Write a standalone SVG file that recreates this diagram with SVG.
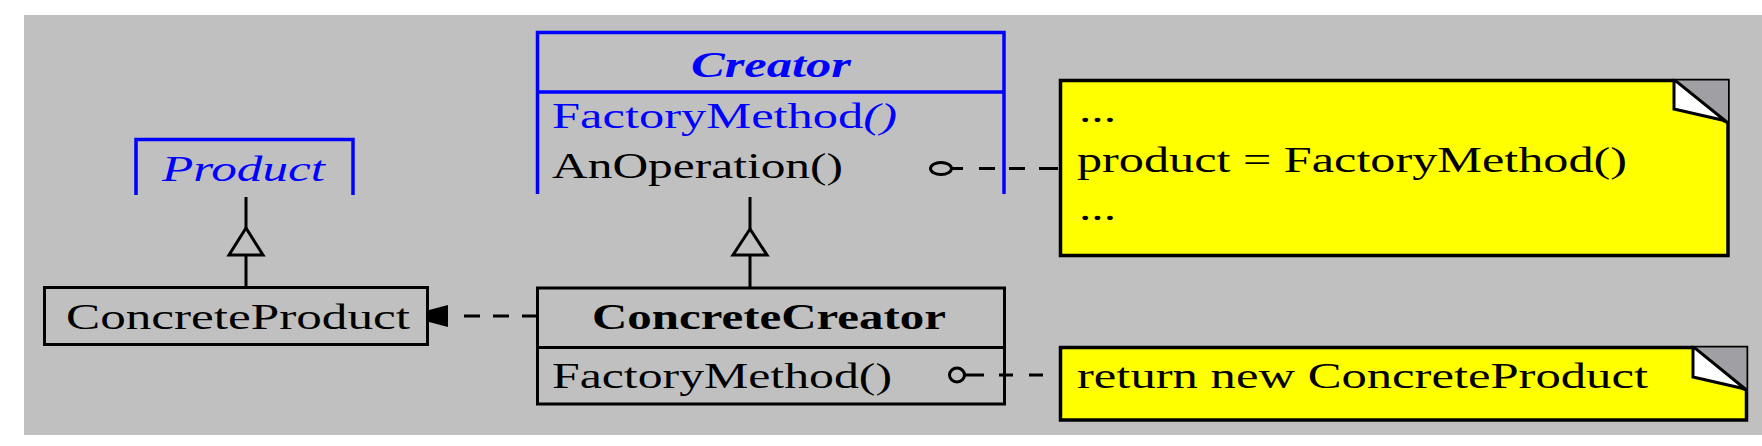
<svg xmlns="http://www.w3.org/2000/svg" width="1762" height="446" viewBox="0 0 1762 446">
<style>
  text { font-family: "Liberation Serif", "Times New Roman", serif; font-size: 36px; fill: #000; }
  .blue { fill: #0000ff; }
  .it { font-style: italic; }
  .bold { font-weight: bold; }
  .box { fill: none; stroke: #000; stroke-width: 3; }
  .abs { fill: none; stroke: #0000ff; stroke-width: 3.5; }
  .note { fill: #ffff00; stroke: #000; stroke-width: 3.5; }
  .line { fill: none; stroke: #000; stroke-width: 3; }
  .tri { fill: #c0c0c0; stroke: #000; stroke-width: 3; stroke-linejoin: miter; }
  .fold-g { fill: #a0a0a4; }
  .fold-w { fill: #ffffff; stroke: #000; stroke-width: 3; stroke-linejoin: miter; }
</style>
<rect x="24" y="15" width="1738" height="420" fill="#c0c0c0"/>

<g id="connectors">
  <!-- ConcreteProduct -> Product generalization -->
  <path class="line" d="M246 197 V228 M246 255 V287"/>
  <polygon class="tri" points="246,228 229,255 263,255"/>
  <!-- ConcreteCreator -> Creator generalization -->
  <path class="line" d="M750 197 V229 M750 255 V288"/>
  <polygon class="tri" points="750,229 733,255 767,255"/>
  <!-- ConcreteCreator -> ConcreteProduct dependency -->
  <path class="line" d="M464 316 H480 M493 316 H509 M522 316 H537"/>
  <polygon points="429,310 448,305 448,327 429,322" fill="#000"/>
  <!-- AnOperation note link -->
  <ellipse cx="941" cy="168.5" rx="10.5" ry="6" fill="none" stroke="#000" stroke-width="3"/>
  <path class="line" d="M951.5 168.5 H963 M979 168.5 H995 M1009 168.5 H1025 M1039 168.5 H1058"/>
  <!-- FactoryMethod note link -->
  <ellipse cx="957" cy="375" rx="7.5" ry="7" fill="none" stroke="#000" stroke-width="3"/>
  <path class="line" d="M964.5 375 H984 M999 375 H1013 M1029 375 H1043"/>
</g>

<g id="product">
  <path class="abs" d="M136 195 V139.5 H353 V195"/>
  <text class="blue it" x="162" y="181" textLength="163" lengthAdjust="spacingAndGlyphs">Product</text>
</g>

<g id="creator">
  <path class="abs" d="M537.5 194 V32.5 H1004 V194 M537.5 92 H1004"/>
  <text class="blue it bold" x="691" y="77" textLength="160" lengthAdjust="spacingAndGlyphs">Creator</text>
  <text class="blue" x="552" y="128" textLength="345" lengthAdjust="spacingAndGlyphs">FactoryMethod<tspan class="it">()</tspan></text>
  <text x="552" y="178" textLength="291" lengthAdjust="spacingAndGlyphs">AnOperation()</text>
</g>

<g id="concreteproduct">
  <rect class="box" x="44.5" y="287.5" width="383" height="57"/>
  <text x="66" y="329" textLength="344" lengthAdjust="spacingAndGlyphs">ConcreteProduct</text>
</g>

<g id="concretecreator">
  <rect class="box" x="537.5" y="288" width="467" height="116"/>
  <path class="box" d="M537.5 347.5 H1004.5"/>
  <text class="bold" x="592" y="329" textLength="354" lengthAdjust="spacingAndGlyphs">ConcreteCreator</text>
  <text x="552" y="388" textLength="340" lengthAdjust="spacingAndGlyphs">FactoryMethod()</text>
</g>

<g id="note1">
  <rect class="note" x="1060.5" y="80.5" width="667.5" height="175"/>
  <polygon class="fold-g" points="1676,80.5 1728,80.5 1728,123"/>
  <polygon class="fold-w" points="1674,80.5 1674,109 1722,120 1728,123 1676,81"/>
  <text x="1079" y="122" textLength="37" lengthAdjust="spacingAndGlyphs">...</text>
  <text x="1077" y="172" textLength="550" lengthAdjust="spacingAndGlyphs">product = FactoryMethod()</text>
  <text x="1079" y="220" textLength="37" lengthAdjust="spacingAndGlyphs">...</text>
</g>

<g id="note2">
  <rect class="note" x="1060.5" y="347.5" width="686" height="72.5"/>
  <polygon class="fold-g" points="1695,347.5 1746.5,347.5 1746.5,390"/>
  <polygon class="fold-w" points="1693,347.5 1693,377 1741,388 1746.5,390 1695,348"/>
  <text x="1077" y="388" textLength="571" lengthAdjust="spacingAndGlyphs">return new ConcreteProduct</text>
</g>
</svg>
